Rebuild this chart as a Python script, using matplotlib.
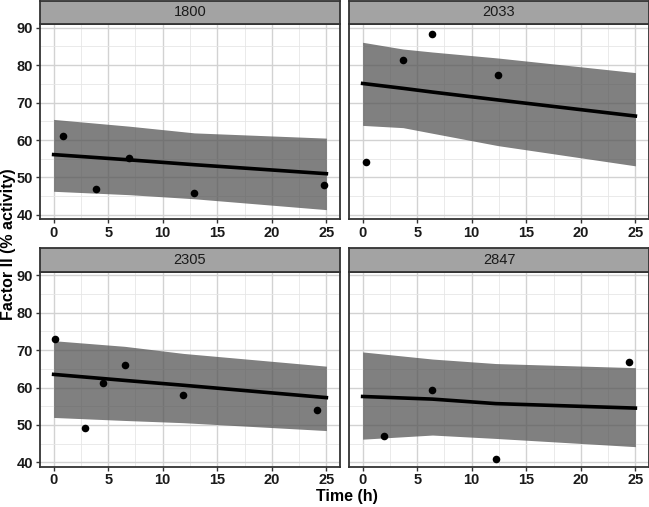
import matplotlib
matplotlib.use("Agg")
import matplotlib.pyplot as plt
import numpy as np

plt.rcParams['font.family'] = ['Liberation Sans', 'DejaVu Sans']

panels = ["1800", "2033", "2305", "2847"]

# observed points
pt_x = {
    "1800": [0.85, 3.9, 6.9, 12.9, 24.8],
    "2033": [0.3, 3.7, 6.4, 12.4],
    "2305": [0.1, 2.85, 4.5, 6.5, 11.9, 24.1],
    "2847": [1.95, 6.4, 12.2, 24.4],
}
pt_y = {
    "1800": [61.1, 46.9, 55.1, 45.9, 47.9],
    "2033": [54.0, 81.3, 88.4, 77.3],
    "2305": [72.9, 49.1, 61.1, 65.9, 58.1, 54.1],
    "2847": [47.1, 59.2, 41.0, 66.9],
}

# fitted line and confidence band
fit_x = {
    "1800": [0, 6.9, 12.9, 25],
    "2033": [0, 3.7, 6.4, 12.4, 25],
    "2305": [0, 6.5, 11.9, 25],
    "2847": [0, 6.4, 12.2, 25],
}
fit_y = {
    "1800": [56.1, 54.7, 53.4, 51.0],
    "2033": [75.1, 73.8, 72.8, 70.7, 66.4],
    "2305": [63.5, 61.9, 60.6, 57.3],
    "2847": [57.6, 56.9, 55.7, 54.5],
}
fit_lo = {
    "1800": [46.3, 45.4, 44.3, 41.4],
    "2033": [63.9, 63.3, 61.8, 58.5, 53.1],
    "2305": [52.0, 51.2, 50.6, 48.5],
    "2847": [46.2, 47.3, 46.4, 44.2],
}
fit_hi = {
    "1800": [65.5, 63.7, 61.9, 60.5],
    "2033": [86.1, 84.3, 83.5, 81.9, 78.0],
    "2305": [72.5, 71.0, 69.1, 65.7],
    "2847": [69.5, 67.6, 66.4, 65.3],
}

xticks = [0, 5, 10, 15, 20, 25]
yticks = [40, 50, 60, 70, 80, 90]
xlabel = "Time (h)"
ylabel = "Factor II (% activity)"

W, H = 649, 507
fig = plt.figure(figsize=(W / 100, H / 100), dpi=100)

lefts = [40, 349]
width_px = 300
tops = [24.5, 272]
height_px = 194.5
strip_h = 23.5

border_col = "#333333"
for i, name in enumerate(panels):
    r, c = divmod(i, 2)
    l = lefts[c]
    t = tops[r]
    ax = fig.add_axes([l / W, 1 - (t + height_px) / H, width_px / W, height_px / H])
    ax.set_xlim(-1.25, 26.25)
    ax.set_ylim(38.9, 90.85)
    ax.set_xticks(xticks)
    ax.set_yticks(yticks)
    ax.set_xticks([2.5, 7.5, 12.5, 17.5, 22.5], minor=True)
    ax.set_yticks([45, 55, 65, 75, 85], minor=True)
    ax.grid(which="major", color="#d2d2d2", linewidth=1.0)
    ax.grid(which="minor", color="#e6e6e6", linewidth=0.6)
    ax.set_axisbelow(True)
    for s in ax.spines.values():
        s.set_color(border_col)
        s.set_linewidth(1.3)
    ax.tick_params(which="minor", length=0)
    ax.tick_params(which="major", length=3, width=1, color=border_col,
                   labelsize=10.5, labelcolor="#1a1a1a", pad=2)
    for lab in ax.get_xticklabels() + ax.get_yticklabels():
        lab.set_fontweight("bold")
    if c == 1:
        ax.tick_params(axis="y", left=False, labelleft=False)

    ax.fill_between(fit_x[name], fit_lo[name], fit_hi[name],
                    color="#555555", alpha=0.75, linewidth=0, zorder=2)
    ax.plot(fit_x[name], fit_y[name], color="black", linewidth=2.6, zorder=3)
    ax.scatter(pt_x[name], pt_y[name], s=30, color="black", zorder=4,
               linewidths=0)

    sax = fig.add_axes([l / W, 1 - (t - 0.5) / H, width_px / W, strip_h / H])
    sax.set_facecolor("#a3a3a3")
    sax.set_xticks([])
    sax.set_yticks([])
    for s in sax.spines.values():
        s.set_color(border_col)
        s.set_linewidth(1.3)
    sax.text(0.5, 0.5, name, ha="center", va="center", fontsize=10.5,
             color="#1a1a1a", transform=sax.transAxes)

fig.text(347 / W, 1 - 497 / H, xlabel, ha="center", va="center",
         fontsize=11.5, fontweight="bold")
fig.text(9 / W, 1 - 244 / H, ylabel, ha="center", va="center",
         rotation=90, fontsize=11.5, fontweight="bold")

fig.savefig("out.png", dpi=100)
